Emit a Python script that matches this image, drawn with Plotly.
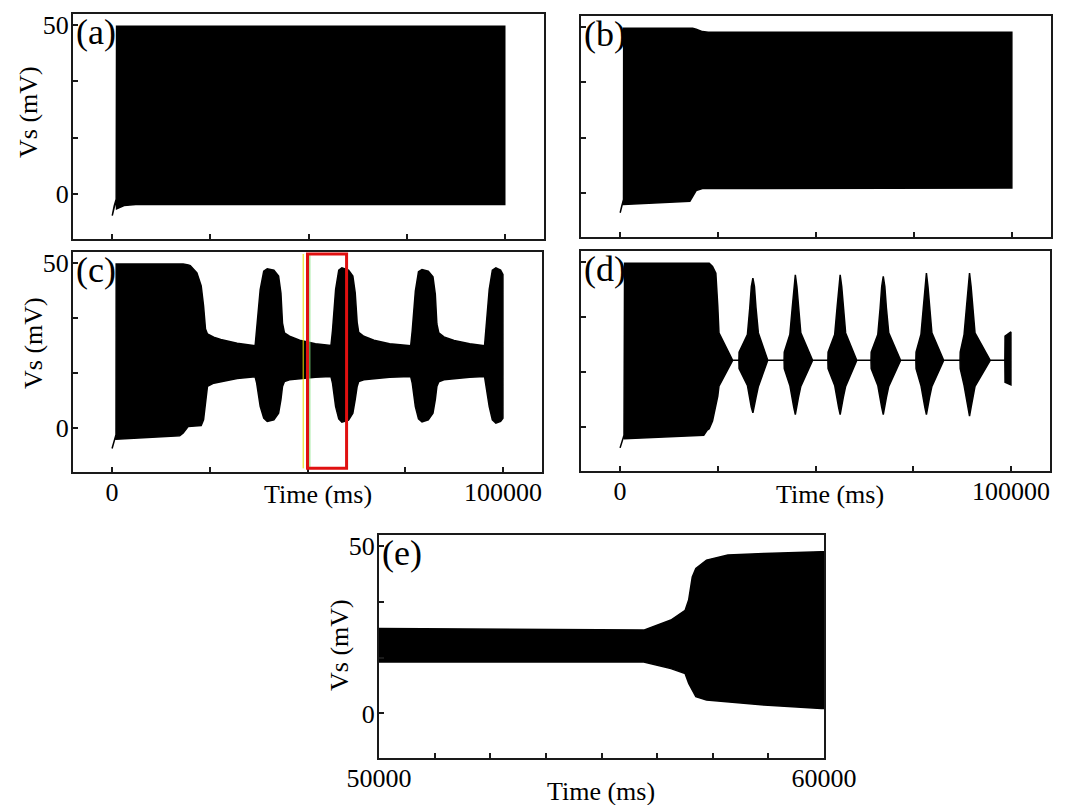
import plotly.graph_objects as go

W, H = 1072, 805
FONT = "Liberation Serif"

# ---------------- data (envelopes of the dense oscillation) ----------------
# (a)
a_t = [0, 500, 1000, 1100, 3000, 6000, 100000]
a_up = [-6.4, -3.5, -1.5, 49.7, 49.7, 49.7, 49.7]
a_lo = [-6.4, -3.5, -1.5, -4.4, -3.4, -3.1, -3.1]

# (b)
b_t = [0, 400, 850, 900, 17800, 18500, 19400, 21000, 22500, 100000]
b_up = [-6.0, -4.0, -2.0, 49.6, 49.6, 49.6, 49.3, 48.6, 48.4, 48.4]
b_lo = [-6.0, -4.0, -2.0, -3.5, -2.5, -1.0, 0.7, 1.3, 1.5, 1.5]

# (c)
c_t = [0, 1000, 1050, 17300, 18200, 19500, 20000, 21700, 22800, 23400, 23900, 24400, 26000, 27800, 32000, 36600,
       37000, 37900, 38800, 39700, 41400, 42600, 43200, 43600, 44100, 45400, 48000, 52000, 56000,
       56400, 57200, 58000, 58800, 60500, 61600, 62200, 62700, 63100, 64400, 67000, 71000, 76400,
       76800, 77600, 78400, 79300, 80900, 82100, 82700, 83100, 83600, 84900, 87500, 91500, 95300,
       95700, 96500, 97300, 98200, 99400, 100000]
c_up = [-6.2, -2.0, 49.7, 49.7, 49.7, 49.4, 49.2, 47.0, 43.0, 37.0, 30.0, 28.5, 27.5, 26.8, 25.7, 24.9,
        29.8, 41.9, 47.5, 48.2, 47.8, 46.0, 40.9, 31.8, 28.8, 27.8, 26.6, 25.5, 25.0,
        29.5, 42.0, 47.8, 48.5, 47.8, 46.0, 41.0, 32.0, 29.0, 27.8, 26.6, 25.5, 24.9,
        29.5, 41.5, 47.3, 48.0, 47.5, 45.8, 40.5, 31.5, 28.8, 27.6, 26.5, 25.5, 24.9,
        30.0, 42.0, 47.8, 48.5, 47.8, 46.5]
c_lo = [-6.2, -2.0, -3.4, -2.3, -1.5, 0.5, 0.55, 0.7, 0.8, 2.5, 8.0, 12.6, 13.6, 14.1, 15.0, 15.5,
        13.6, 6.6, 3.0, 2.0, 2.5, 4.5, 8.6, 12.6, 14.1, 14.6, 15.0, 15.4, 15.6,
        13.6, 6.5, 2.8, 1.8, 2.4, 4.5, 8.6, 12.6, 14.1, 14.6, 15.0, 15.4, 15.6,
        13.6, 6.5, 2.8, 1.9, 2.5, 4.5, 8.6, 12.6, 14.0, 14.6, 15.0, 15.4, 15.6,
        13.5, 6.5, 2.5, 1.5, 2.0, 3.0]

# (d)
d_t = [0, 1000, 1150, 21400, 22300, 22800, 23650, 24500, 25000, 25300, 28800,
       30400, 30450, 32580, 33180, 33580, 33980, 34380, 34780, 35380, 37780,
       41960, 42010, 43440, 44040, 44440, 44840, 45240, 45640, 46240, 49250,
       53170, 53220, 54910, 55510, 55910, 56310, 56710, 57110, 57710, 60550,
       64200, 64250, 65940, 66540, 66940, 67340, 67740, 68140, 68740, 71760,
       75680, 75730, 76980, 77580, 77980, 78380, 78780, 79180, 79780, 82790,
       86980, 87030, 88010, 88610, 89010, 89410, 89810, 90210, 90810, 94700,
       98450, 98500, 100000]
d_up = [-6.3, -2.5, 49.6, 49.6, 49.6, 49.6, 48.6, 46.6, 36.6, 28.5, 20.2,
        20.2, 22.7, 28.0, 36.0, 42.5, 45.1, 42.5, 36.0, 28.5, 20.2,
        20.2, 22.7, 28.0, 36.0, 42.5, 46.1, 42.5, 36.0, 28.5, 20.2,
        20.2, 22.7, 28.0, 36.0, 42.5, 46.1, 42.5, 36.0, 28.5, 20.2,
        20.2, 22.7, 28.0, 36.0, 42.5, 45.6, 42.5, 36.0, 28.5, 20.2,
        20.2, 22.7, 28.0, 36.0, 42.5, 46.6, 42.5, 36.0, 28.5, 20.2,
        20.2, 22.7, 28.0, 36.0, 42.5, 46.6, 42.5, 36.0, 28.5, 20.2,
        20.2, 27.5, 28.8]
d_lo = [-6.3, -2.5, -3.5, -2.5, -0.9, -0.5, 1.8, 6.3, 9.4, 12.4, 20.2,
        20.2, 17.7, 12.6, 9.0, 6.0, 4.3, 6.0, 9.0, 12.3, 20.2,
        20.2, 17.7, 12.6, 9.0, 6.0, 3.8, 6.0, 9.0, 12.3, 20.2,
        20.2, 17.7, 12.6, 9.0, 6.0, 3.8, 6.0, 9.0, 12.3, 20.2,
        20.2, 17.7, 12.6, 9.0, 6.0, 3.8, 6.0, 9.0, 12.3, 20.2,
        20.2, 17.7, 12.6, 9.0, 6.0, 3.8, 6.0, 9.0, 12.3, 20.2,
        20.2, 17.7, 12.6, 9.0, 6.0, 3.3, 6.0, 9.0, 12.3, 20.2,
        20.2, 13.6, 12.8]

# (e)  zoom of (c) between 50000 and 60000 ms
e_t = [50000, 53000, 55950, 56560, 56880, 56960, 57040, 57120, 57360, 57840, 58650, 59940, 60000]
e_up = [25.4, 25.1, 24.9, 27.9, 30.8, 34.0, 40.8, 43.3, 45.8, 47.3, 47.8, 48.3, 48.3]
e_lo = [15.4, 15.4, 15.4, 13.4, 11.9, 9.0, 7.0, 5.0, 4.0, 3.5, 2.5, 1.5, 1.5]

# ticks / labels
y_ticks = [0, 16.67, 33.33, 50]
y_labels = ["0", "", "", "50"]
x_ticks = [0, 25000, 50000, 75000, 100000]
x_labels = ["0", "", "", "", "100000"]
e_ticks = [50000, 51250, 52500, 53750, 55000, 56250, 57500, 58750, 60000]
e_labels = ["50000", "", "", "", "", "", "", "", "60000"]
panel_names = ["(a)", "(b)", "(c)", "(d)", "(e)"]
box_range = [50000, 60000]

# ---------------- figure ----------------
def px_x(p):
    return p / W

def px_y(p):
    return 1 - p / H

frames = {  # left, right, top, bottom in px
    1: (73, 544, 14, 239),
    2: (581, 1051, 16, 237),
    3: (73, 542, 252, 472),
    4: (581, 1050, 251, 471),
    5: (379, 824, 535, 758),
}

fig = go.Figure()
series = [(a_t, a_up, a_lo), (b_t, b_up, b_lo), (c_t, c_up, c_lo), (d_t, d_up, d_lo), (e_t, e_up, e_lo)]
for i, (t, up, lo) in enumerate(series, start=1):
    sfx = "" if i == 1 else str(i)
    fig.add_trace(go.Scatter(
        x=list(t) + list(t)[::-1], y=list(up) + list(lo)[::-1],
        mode="lines", fill="toself", fillcolor="black",
        line=dict(color="black", width=1.5),
        xaxis="x" + sfx, yaxis="y" + sfx, showlegend=False, hoverinfo="skip"))

tickfont = dict(family=FONT, size=26, color="black")
common = dict(showline=True, mirror=True, linecolor="#1a1a1a", linewidth=2,
              ticks="inside", ticklen=5, tickwidth=2, tickcolor="#1a1a1a",
              showgrid=False, zeroline=False, tickfont=tickfont, automargin=False)

layout = dict(width=W, height=H, margin=dict(l=0, r=0, t=0, b=0, autoexpand=False),
              paper_bgcolor="white", plot_bgcolor="white", showlegend=False)

for i in range(1, 6):
    l, r, t, b = frames[i]
    sfx = "" if i == 1 else str(i)
    if i == 5:
        xr, xt, xl = [50000, 60000], e_ticks, e_labels
    else:
        xr, xt = [-10000, 110000], x_ticks
        xl = x_labels if i in (3, 4) else [""] * len(x_ticks)
    yl = y_labels if i in (1, 3, 5) else [""] * len(y_ticks)
    layout["xaxis" + sfx] = dict(common, domain=[px_x(l), px_x(r)], range=xr,
                                 tickvals=xt, ticktext=xl, anchor="y" + sfx,
                                 ticklabelstandoff=-4)
    layout["yaxis" + sfx] = dict(common, domain=[px_y(b), px_y(t)], range=[-13.3, 53.3],
                                 tickvals=y_ticks, ticktext=yl, anchor="x" + sfx,
                                 ticklabelstandoff=-3)

fig.update_layout(**layout)

annots = []
# panel labels
for i, name in enumerate(panel_names, start=1):
    l, r, t, b = frames[i]
    annots.append(dict(text=name, x=px_x(l + 1), y=px_y(t - 4), xref="paper", yref="paper",
                       xanchor="left", yanchor="top", showarrow=False,
                       font=dict(family=FONT, size=36, color="black")))
# y titles
for (xp, yp) in [(29, 112), (33, 343), (339, 645)]:
    annots.append(dict(text="Vs (mV)", x=px_x(xp), y=px_y(yp), xref="paper", yref="paper",
                       textangle=-90, showarrow=False, xanchor="center", yanchor="middle",
                       font=dict(family=FONT, size=26, color="black")))
# x titles
for (xp, yp) in [(318, 494), (830, 494), (601, 791)]:
    annots.append(dict(text="Time (ms)", x=px_x(xp), y=px_y(yp), xref="paper", yref="paper",
                       showarrow=False, xanchor="center", yanchor="middle",
                       font=dict(family=FONT, size=26, color="black")))
fig.update_layout(annotations=annots)

# highlight box in (c) marking the window shown in (e)
fig.add_shape(type="line", xref="x3", yref="y3", x0=48900, x1=48900, y0=-12.2, y1=52.7,
              line=dict(color="#e6e000", width=1))
fig.add_shape(type="line", xref="x3", yref="y3", x0=50600, x1=50600, y0=-12.2, y1=52.7,
              line=dict(color="#7ee07e", width=1))
fig.add_shape(type="rect", xref="x3", yref="y3", x0=box_range[0], x1=box_range[1], y0=-12.2, y1=52.7,
              line=dict(color="#e01010", width=3))

fig.write_html("out.html", config={"displayModeBar": False},
               post_script="document.body.style.margin='0';document.body.style.overflow='hidden';")
